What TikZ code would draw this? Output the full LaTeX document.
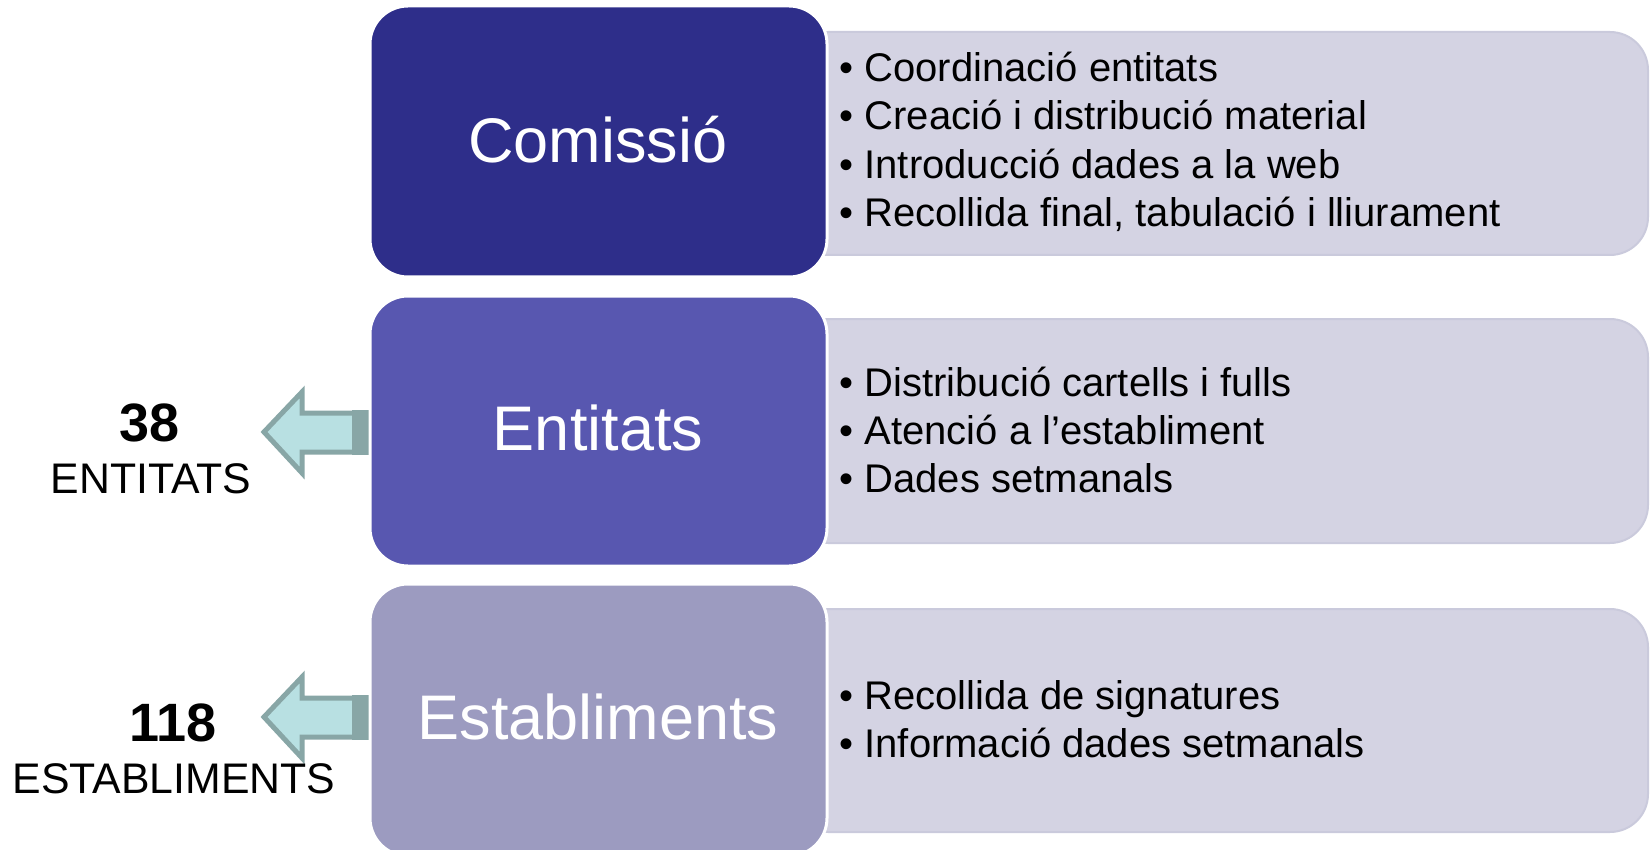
\documentclass[tikz,border=0pt]{standalone}
\usepackage{fontspec}
\setmainfont{Liberation Sans}
\definecolor{cDark}{HTML}{2E2E8A}
\definecolor{cMid}{HTML}{5857B0}
\definecolor{cLight}{HTML}{9C9BC0}
\definecolor{cPanel}{HTML}{D4D3E3}
\definecolor{cPanelEdge}{HTML}{CACADC}
\definecolor{cArrowFill}{HTML}{B8E0E2}
\definecolor{cArrowEdge}{HTML}{88A6A6}
\begin{document}
\begin{tikzpicture}[x=1pt,y=-1pt,
  mainbox/.style={draw=white,line width=3pt,rounded corners=38pt},
  panel/.style={draw=cPanelEdge,line width=2pt,fill=cPanel,rounded corners=38pt},
  title/.style={text=white,font=\fontsize{63}{70}\selectfont},
  items/.style={anchor=west,align=left,font=\fontsize{40}{48.4}\selectfont},
  bigarrow/.style={draw=cArrowEdge,fill=cArrowFill,line width=5pt,line join=miter},
  count/.style={font=\fontsize{54}{60}\selectfont\bfseries},
  countlbl/.style={font=\fontsize{42.8}{50}\selectfont}]
\useasboundingbox (0,0) rectangle (1651,850);
% right panels
\draw[panel] (790,32) rectangle (1648,255);
\draw[panel] (790,319) rectangle (1648,543);
\draw[panel] (790,609) rectangle (1648,832);
% arrows
\draw[bigarrow] (264,432) -- (302,392) -- (302,413) -- (372,413) -- (372,452) -- (302,452) -- (302,473) -- cycle;
\fill[cArrowEdge] (352,410) rectangle (372,455);
\draw[bigarrow] (264,717) -- (302,677) -- (302,698) -- (372,698) -- (372,737) -- (302,737) -- (302,758) -- cycle;
\fill[cArrowEdge] (352,695) rectangle (372,740);
% main boxes
\draw[mainbox,fill=cDark] (370,6) rectangle (827,277);
\draw[mainbox,fill=cMid] (370,296) rectangle (827,566);
\draw[mainbox,fill=cLight] (370,584) rectangle (827,856);
\node[title] (com) at (598,140) {Comissió};
\node[title] (ent) at (598,428) {Entitats};
\node[title] (est) at (598,717) {Establiments};
% bullet lists
\node[items] (l1) at (836,142) {• Coordinació entitats\\• Creació i distribució material\\• Introducció dades a la web\\• Recollida final, tabulació i lliurament};
\node[items] (l2) at (836,430) {• Distribució cartells i fulls\\• Atenció a l’establiment\\• Dades setmanals};
\node[items] (l3) at (836,719) {• Recollida de signatures\\• Informació dades setmanals};
% counts
\node[count] (n38) at (150,423) {38};
\node[countlbl] (t38) at (151,479) {ENTITATS};
\node[count] (n118) at (173,723) {118};
\node[countlbl] (t118) at (174,779) {ESTABLIMENTS};
\end{tikzpicture}
\end{document}
